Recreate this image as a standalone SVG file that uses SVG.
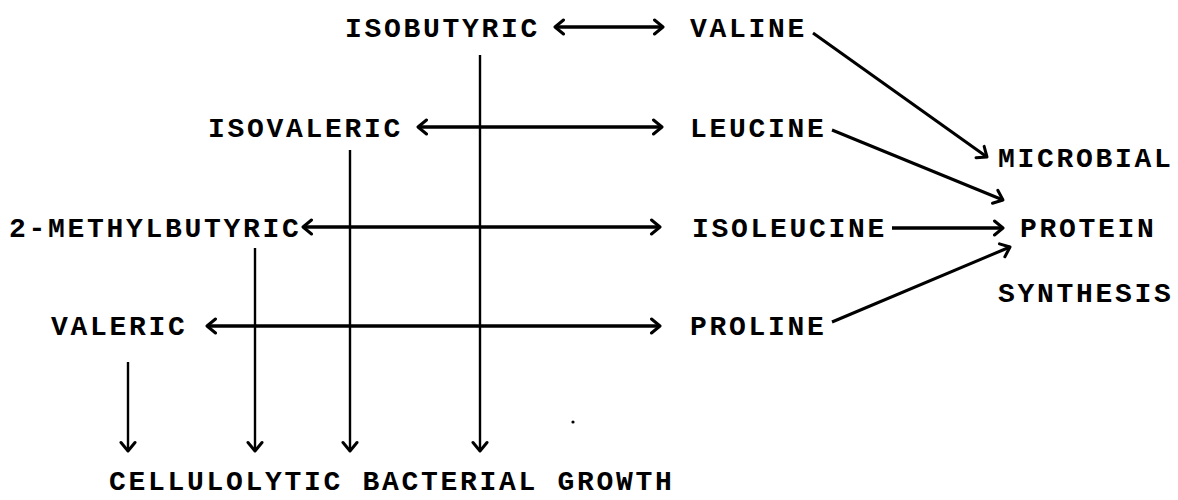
<svg xmlns="http://www.w3.org/2000/svg" width="1178" height="500" viewBox="0 0 1178 500">
<style>
text{font-family:"Liberation Mono","DejaVu Sans Mono",monospace;font-size:28px;font-weight:bold;letter-spacing:2.7px;fill:#000}
.c line{stroke:#000;fill:none}
.h{stroke-width:3.5}
.d{stroke-width:3}
.v{stroke-width:2.4}
</style>
<defs>
<marker id="ah" viewBox="0 0 14 18" refX="11" refY="9" markerWidth="14" markerHeight="18" markerUnits="userSpaceOnUse" orient="auto-start-reverse">
<path d="M2.5,2 L11,9 L2.5,16" fill="none" stroke="#000" stroke-width="3" stroke-linecap="round" stroke-linejoin="round"/>
</marker>
</defs>
<rect width="1178" height="500" fill="#fff"/>
<g class="c" id="connectors">
<line class="h" x1="555" y1="27" x2="663" y2="27" marker-start="url(#ah)" marker-end="url(#ah)"/>
<line class="h" x1="418" y1="127" x2="662" y2="127" marker-start="url(#ah)" marker-end="url(#ah)"/>
<line class="h" x1="303" y1="227" x2="660" y2="227" marker-start="url(#ah)" marker-end="url(#ah)"/>
<line class="h" x1="207" y1="326" x2="660" y2="326" marker-start="url(#ah)" marker-end="url(#ah)"/>
<line class="h" x1="892" y1="228" x2="1003" y2="228" marker-end="url(#ah)"/>
<line class="d" x1="813" y1="33" x2="987" y2="157" marker-end="url(#ah)"/>
<line class="d" x1="832" y1="130" x2="1003" y2="200" marker-end="url(#ah)"/>
<line class="d" x1="832" y1="322" x2="1010" y2="247" marker-end="url(#ah)"/>
<line class="v" x1="128" y1="362" x2="128" y2="451" marker-end="url(#ah)"/>
<line class="v" x1="255" y1="248" x2="255" y2="451" marker-end="url(#ah)"/>
<line class="v" x1="350" y1="150" x2="350" y2="451" marker-end="url(#ah)"/>
<line class="v" x1="480" y1="55" x2="480" y2="451" marker-end="url(#ah)"/>
</g>
<g id="n-isobutyric"><text x="345" y="37">ISOBUTYRIC</text></g>
<g id="n-valine"><text x="690" y="37">VALINE</text></g>
<g id="n-isovaleric"><text x="208" y="137">ISOVALERIC</text></g>
<g id="n-leucine"><text x="690" y="137">LEUCINE</text></g>
<g id="n-2methylbutyric"><text x="9" y="237">2-METHYLBUTYRIC</text></g>
<g id="n-isoleucine"><text x="692" y="237">ISOLEUCINE</text></g>
<g id="n-valeric"><text x="51" y="335">VALERIC</text></g>
<g id="n-proline"><text x="690" y="335">PROLINE</text></g>
<g id="n-protein-synthesis">
<text x="998" y="167">MICROBIAL</text>
<text x="1020" y="237">PROTEIN</text>
<text x="998" y="302">SYNTHESIS</text>
</g>
<g id="n-cellulolytic"><text x="109" y="490">CELLULOLYTIC BACTERIAL GROWTH</text></g>
<circle cx="573" cy="422" r="1.6" fill="#000"/>
</svg>
